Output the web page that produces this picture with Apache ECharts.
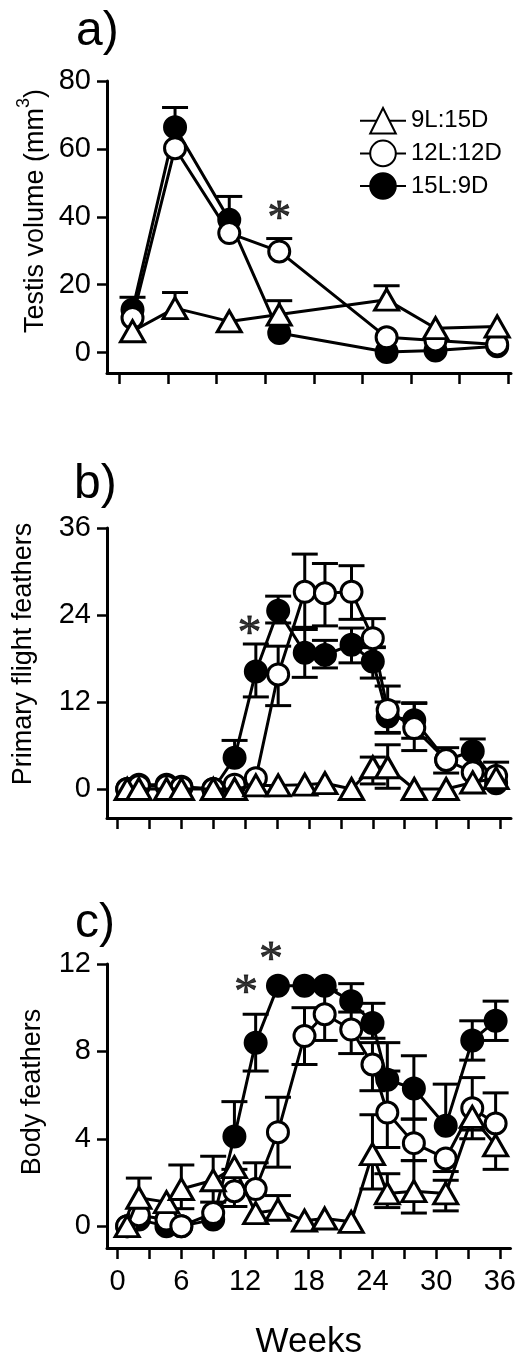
<!DOCTYPE html>
<html>
<head>
<meta charset="utf-8">
<script src="https://cdn.jsdelivr.net/npm/echarts@6/dist/echarts.min.js"></script>
<style>
html,body{margin:0;padding:0;background:#fff;}
#chart{width:519px;height:1361px;}
</style>
</head>
<body>
<div id="chart"></div>
<script>
// ---------- data ----------
const groupNames = ['9L:15D', '12L:12D', '15L:9D'];

// panel a: testis volume (mm3)
const weeksA = [1.4, 5.4, 10.5, 15.2, 25.3, 29.9, 35.7];
const triA = [6.3, 13.1, 9.2, 11.2, 15.6, 7.2, 7.7];
const triAHi = [null, 17.7, null, 15.3, 19.7, null, null];
const openA = [10.2, 60.2, 35.2, 29.8, 4.5, 3.6, 2.4];
const openAHi = [null, null, null, 33.6, null, null, null];
const fillA = [12.6, 66.4, 39.1, 5.8, 0.2, 0.6, 1.9];
const fillAHi = [16.3, 72.2, 46.0, null, null, null, null];
const ticksA = [0.15, 4.725, 9.3, 13.875, 18.45, 23.025, 27.6, 32.175, 36.75];
const yTicksA = [0, 20, 40, 60, 80];
const starsA = [[15.2, 41.7]];

// panel b: primary flight feathers
const weeksB = [0.9, 2, 4.6, 6, 9, 11, 13, 15.1, 17.6, 19.5, 22, 24, 25.4, 27.9, 30.9, 33.4, 35.6];
const triB = [0, 0, 0, 0, 0, 0, 0.5, 0.5, 0.6, 0.8, 0, 3.0, 3.0, 0, 0, 0.9, 1.5];
const triBHi = [null, null, null, null, null, null, null, null, null, null, null, 4.4, 6.1, null, null, null, null];
const triBLo = [null, null, null, null, null, null, null, null, null, null, null, 0.7, 0.1, null, null, null, null];
const openB = [0, 0.4, 0.4, 0.2, 0, 0.6, 1.5, 15.8, 27.2, 27.0, 27.2, 20.8, 10.9, 8.4, 4.0, 2.3, 1.8];
const openBHi = [null, null, null, null, null, null, null, 19.7, 32.4, 31.1, 30.8, 23.5, 14.2, 11.8, 5.7, null, 3.7];
const openBLo = [null, null, null, null, null, null, null, 11.5, 22.3, 22.5, 23.4, 19.6, 7.8, 5.3, 2.2, null, null];
const fillB = [0, 0.6, 0.6, 0.3, 0, 4.3, 16.2, 24.6, 18.8, 18.5, 19.9, 17.6, 10.0, 9.5, 4.0, 5.2, 0.8];
const fillBHi = [null, null, null, null, null, 6.7, 20.0, 26.6, 22.0, 20.5, 22.2, 19.5, 12.0, 11.9, null, 6.9, null];
const fillBLo = [null, null, null, null, null, null, 12.7, 22.9, 15.4, 16.7, 17.4, 15.3, 7.7, 7.0, null, null, null];
const yTicksB = [0, 12, 24, 36];
const starsB = [[12.4, 22.4]];

// panel c: body feathers
const weeksC = [0.9, 2, 4.6, 6, 9, 11, 13, 15.1, 17.6, 19.5, 22, 24, 25.4, 27.9, 30.9, 33.4, 35.6];
const triC = [0, 1.3, 1.1, 1.7, 2.1, 2.7, 0.6, 0.75, 0.25, 0.35, 0.2, 3.3, 1.5, 1.6, 1.5, 5.0, 3.7];
const triCHi = [null, 2.2, null, 2.8, 3.2, null, null, 1.4, null, null, null, 5.1, 2.4, 3.0, 2.1, null, null];
const triCLo = [null, null, null, 0.8, 1.1, null, null, null, null, null, null, 1.7, 0.85, 0.6, 0.7, 4.0, 2.6];
const openC = [0, 0.5, 0.3, 0, 0.6, 1.6, 1.7, 4.3, 8.7, 9.7, 9.0, 7.4, 5.2, 3.8, 3.1, 5.4, 4.7];
const openCHi = [null, null, null, null, null, 2.6, 2.9, 5.9, 10.0, 10.8, 9.8, 8.4, 7.1, 4.9, null, 6.8, 6.1];
const openCLo = [null, null, null, null, null, 0.9, null, 2.7, 7.4, 8.5, 7.9, 6.2, 3.6, 3.0, 2.5, 4.4, null];
const fillC = [0, 0.3, 0, 0, 0.3, 4.1, 8.4, 11.0, 11.0, 11.0, 10.3, 9.3, 6.7, 6.3, 4.6, 8.5, 9.4];
const fillCHi = [null, null, null, null, null, 5.7, 9.7, null, null, null, 11.1, 10.2, 8.4, 7.8, 6.5, 9.4, 10.3];
const fillCLo = [null, null, null, null, null, null, 7.1, null, null, null, null, 8.6, null, 4.9, null, 7.6, 8.5];
const yTicksC = [0, 4, 8, 12];
const starsC = [[12.1, 11.0], [14.45, 12.55]];

const xTicks = [0, 3, 6, 9, 12, 15, 18, 21, 24, 27, 30, 33, 36];
const xLabels = [0, 6, 12, 18, 24, 30, 36];

// ---------- drawing ----------
const FONT = '"Liberation Sans", Arial, Helvetica, sans-serif';
const chart = echarts.init(document.getElementById('chart'));

function errRender(params, api) {
  const x = api.value(0), y = api.value(1), hi = api.value(2), lo = api.value(3);
  const p0 = api.coord([x, y]);
  const st = { stroke: '#000', lineWidth: 3, fill: null };
  const cap = 13;
  const ch = [];
  if (hi !== y) {
    const p = api.coord([x, hi]);
    ch.push({ type: 'line', shape: { x1: p0[0], y1: p0[1], x2: p[0], y2: p[1] }, style: st });
    ch.push({ type: 'line', shape: { x1: p[0] - cap, y1: p[1], x2: p[0] + cap, y2: p[1] }, style: st });
  }
  if (lo !== y) {
    const p = api.coord([x, lo]);
    ch.push({ type: 'line', shape: { x1: p0[0], y1: p0[1], x2: p[0], y2: p[1] }, style: st });
    ch.push({ type: 'line', shape: { x1: p[0] - cap, y1: p[1], x2: p[0] + cap, y2: p[1] }, style: st });
  }
  return { type: 'group', children: ch };
}

function groupSeries(g, weeks, vals, hi, lo, name, sym, fill, z) {
  const errData = weeks.map((w, i) => [
    w, vals[i],
    (hi && hi[i] != null) ? hi[i] : vals[i],
    (lo && lo[i] != null) ? lo[i] : vals[i]
  ]);
  return [
    {
      type: 'custom', xAxisIndex: g, yAxisIndex: g, z: 2, silent: true,
      renderItem: errRender, data: errData, encode: { x: 0, y: 1 }, animation: false
    },
    {
      type: 'line', name: name, xAxisIndex: g, yAxisIndex: g, z: z,
      data: weeks.map((w, i) => [w, vals[i]]),
      symbol: sym, symbolSize: sym === 'triangle' ? [24, 21] : 21,
      showAllSymbol: true,
      lineStyle: { color: '#000', width: 3 },
      itemStyle: { color: fill, borderColor: '#000', borderWidth: 3 },
      emphasis: { disabled: true }, silent: true, animation: false
    }
  ];
}

function starSeries(g, pts) {
  return {
    type: 'scatter', xAxisIndex: g, yAxisIndex: g, z: 20, clip: false, silent: true,
    data: pts, symbolSize: 1, itemStyle: { color: 'rgba(0,0,0,0)' },
    label: { show: true, position: 'inside', formatter: '*', fontSize: 48,
      fontFamily: '"Liberation Serif", "Times New Roman", serif', color: '#000',
      textBorderColor: '#000', textBorderWidth: 0.8, offset: [0, 9] },
    animation: false
  };
}

function xAxisCfg(g, ticks, showLabels) {
  return {
    type: 'value', gridIndex: g, min: -1, max: 37,
    axisLine: { show: true, onZero: false, lineStyle: { color: '#000', width: 3 } },
    axisTick: { show: true, length: 11, customValues: ticks, lineStyle: { color: '#000', width: 2.5 } },
    axisLabel: showLabels ? { show: true, customValues: xLabels, fontSize: 29, color: '#000', margin: 19, fontFamily: FONT }
                          : { show: false },
    splitLine: { show: false },
    name: showLabels ? 'Weeks' : '', nameLocation: 'middle', nameGap: 77,
    nameTextStyle: { fontSize: 35, color: '#000', fontFamily: FONT }
  };
}

function yAxisCfg(g, min, max, ticks) {
  return {
    type: 'value', gridIndex: g, min: min, max: max,
    axisLine: { show: true, onZero: false, lineStyle: { color: '#000', width: 3 } },
    axisTick: { show: true, length: 10, customValues: ticks, lineStyle: { color: '#000', width: 2.5 } },
    axisLabel: { show: true, customValues: ticks, fontSize: 29, color: '#000', margin: 16, fontFamily: FONT },
    splitLine: { show: false }
  };
}

const series = [].concat(
  groupSeries(0, weeksA, fillA, fillAHi, null, groupNames[2], 'circle', '#000', 3),
  groupSeries(0, weeksA, openA, openAHi, null, groupNames[1], 'circle', '#fff', 4),
  groupSeries(0, weeksA, triA, triAHi, null, groupNames[0], 'triangle', '#fff', 5),
  groupSeries(1, weeksB, fillB, fillBHi, fillBLo, groupNames[2], 'circle', '#000', 3),
  groupSeries(1, weeksB, openB, openBHi, openBLo, groupNames[1], 'circle', '#fff', 4),
  groupSeries(1, weeksB, triB, triBHi, triBLo, groupNames[0], 'triangle', '#fff', 5),
  groupSeries(2, weeksC, fillC, fillCHi, fillCLo, groupNames[2], 'circle', '#000', 3),
  groupSeries(2, weeksC, openC, openCHi, openCLo, groupNames[1], 'circle', '#fff', 4),
  groupSeries(2, weeksC, triC, triCHi, triCLo, groupNames[0], 'triangle', '#fff', 5),
  [starSeries(0, starsA), starSeries(1, starsB), starSeries(2, starsC)]
);

const option = {
  backgroundColor: '#fff',
  animation: false,
  grid: [
    { left: 107, top: 81, width: 404, height: 292 },
    { left: 107, top: 528, width: 404, height: 290 },
    { left: 107, top: 964, width: 404, height: 292 }
  ],
  xAxis: [xAxisCfg(0, ticksA, false), xAxisCfg(1, xTicks, false), xAxisCfg(2, xTicks, true)],
  yAxis: [yAxisCfg(0, -6, 80, yTicksA), yAxisCfg(1, -4, 36, yTicksB), yAxisCfg(2, -1, 12, yTicksC)],
  legend: {
    data: groupNames, orient: 'vertical', left: 354, top: 102,
    itemWidth: 46, itemHeight: 32, itemGap: 5,
    textStyle: { fontSize: 24, color: '#000', fontFamily: FONT },
    selectedMode: false
  },
  graphic: [
    { type: 'text', x: 76, y: 32, style: { text: 'a)', font: '48px ' + FONT, textAlign: 'left', textVerticalAlign: 'middle', fill: '#000' } },
    { type: 'text', x: 74, y: 485, style: { text: 'b)', font: '48px ' + FONT, textAlign: 'left', textVerticalAlign: 'middle', fill: '#000' } },
    { type: 'text', x: 75, y: 924, style: { text: 'c)', font: '48px ' + FONT, textAlign: 'left', textVerticalAlign: 'middle', fill: '#000' } },
    { type: 'text', x: 32, y: 211, rotation: Math.PI / 2,
      style: { text: '{n|Testis volume (mm}{s|3}{n|)}', textAlign: 'center', textVerticalAlign: 'middle', fill: '#000',
        rich: { n: { fontSize: 27, fontFamily: FONT, lineHeight: 34, verticalAlign: 'bottom' },
                s: { fontSize: 18, fontFamily: FONT, verticalAlign: 'top' } } } },
    { type: 'text', x: 24, y: 654, rotation: Math.PI / 2,
      style: { text: 'Primary flight feathers', font: '27px ' + FONT, textAlign: 'center', textVerticalAlign: 'middle', fill: '#000' } },
    { type: 'text', x: 33, y: 1092, rotation: Math.PI / 2,
      style: { text: 'Body feathers', font: '27px ' + FONT, textAlign: 'center', textVerticalAlign: 'middle', fill: '#000' } }
  ],
  series: series
};
chart.setOption(option);
</script>
</body>
</html>
